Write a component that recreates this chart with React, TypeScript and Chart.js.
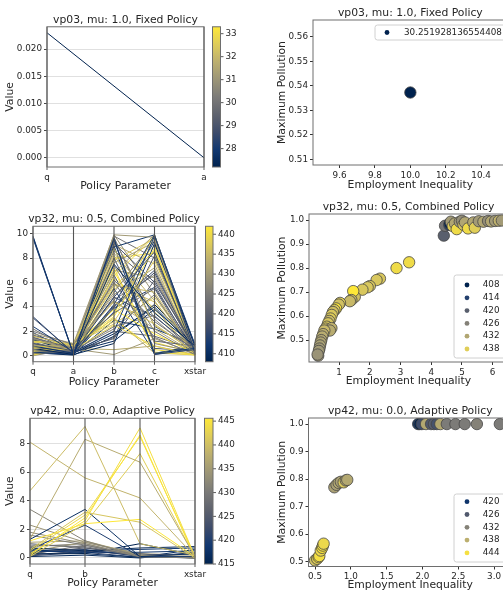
import React, { useEffect, useRef } from 'react';
import { Chart, registerables } from 'chart.js';

Chart.register(...registerables);

const FONT = "'DejaVu Sans', sans-serif";
const TEXT = '#262626';
const SPINE = '#6e6e6e';
const TICK_SIZE = 8.8;
const LABEL_SIZE = 10.8;
const TITLE_SIZE = 10.8;

// ---------------- data ----------------
// Panel 1: vp03, mu 1.0, Fixed Policy (parallel coordinates)
const P1_PARAMS = ['q', 'a'];
const P1_Q = [0.023];
const P1_A = [0.0];
const P1_CLASS = [30.251928136554408];
const P1_YTICKS = [0, 0.005, 0.01, 0.015, 0.02];
const P1_YRANGE = [-0.0017, 0.0241];
const P1_CBRANGE = [27.2, 33.3];
const P1_CBTICKS = [28, 29, 30, 31, 32, 33];

// Panel 2: vp32, mu 0.5, Combined Policy (parallel coordinates)
const P2_PARAMS = ['q', 'a', 'b', 'c', 'xstar'];
const P2_Q = [9.8,9.6,9.7,3.2,3.1,2.4,2.0,1.8,1.6,1.5,1.4,1.2,1.1,1.0,0.9,0.8,0.8,0.7,0.7,0.6,0.6,0.5,0.5,0.5,0.4,0.4,0.35,0.3,0.3,0.25,0.2,0.2,0.15,0.1,0.05,0.0,2.2,1.9,1.3,1.7,0.9,0.6,0.45,1.2,0.8,0.3,1.0,0.7,0.2,1.4,0.55,0.9,0.4,1.6,0.25,0.75,1.1,0.35,0.65,1.3,0.1,0.5,0.85,0.15,1.5,0.6,0.3,0.95,0.2,0.7];
const P2_A = [0.1,0.15,0.12,0.2,0.25,0.3,0.9,1.0,0.8,0.6,0.5,1.0,0.95,0.4,0.7,0.85,0.2,0.9,0.3,0.6,0.1,0.75,0.5,0.15,0.95,0.35,0.8,0.1,0.65,0.45,1.0,0.25,0.7,0.9,0.85,0.6,0.4,0.2,0.3,0.7,0.45,0.8,0.55,0.6,0.95,0.4,0.15,0.55,0.75,0.35,1.0,0.25,0.65,0.9,0.05,0.5,0.3,0.85,0.2,0.7,0.4,0.9,0.1,0.6,0.45,0.8,0.3,0.65,0.15,0.95];
const P2_B = [9.6,4.2,7.5,9.5,4.8,2.0,6.0,9.9,8.8,3.5,5.2,7.2,2.8,9.2,4.5,6.8,1.8,3.2,8.0,5.8,1.0,9.6,2.5,4.0,7.8,6.2,3.8,9.0,5.0,2.2,8.4,1.5,6.5,4.4,3.0,7.0,9.8,5.5,1.2,8.6,9.4,5.6,0.1,0.5,2.6,4.8,3.6,7.4,9.1,6.6,3.4,2.0,8.2,4.6,1.6,5.4,9.7,6.9,3.9,7.6,2.4,5.9,8.9,3.1,1.4,9.9,4.1,6.3,2.9,8.0];
const P2_C = [0.2,9.9,3.5,0.1,8.5,9.8,1.5,9.7,2.5,5.5,9.5,0.3,7.8,6.0,2.2,9.9,4.0,8.8,1.2,5.2,9.2,3.0,0.8,6.8,9.6,2.8,1.8,0.1,7.2,5.0,4.5,8.2,9.8,2.6,0.5,6.4,8.0,0.2,3.8,5.8,1.0,9.0,1.4,0.8,4.8,3.2,9.4,2.0,7.5,0.6,9.9,1.6,3.6,6.6,4.2,8.6,2.4,1.1,5.6,9.3,3.3,4.4,9.9,0.2,6.2,5.0,7.0,3.9,2.2,8.4];
const P2_X = [0.6,0.3,0.8,0.5,0.2,0.9,0.1,0.2,0.3,0.1,0.5,0.05,0.4,0.7,0.2,0.1,0.6,0.3,0.8,0.15,0.9,0.2,0.05,0.4,0.1,0.5,0.2,0.7,0.3,0.1,0.15,0.6,0.05,0.25,0.1,0.4,0.5,0.8,0.9,0.2,0.3,0.1,0.2,0.1,0.3,0.6,0.7,0.1,0.2,0.4,0.05,0.5,0.3,0.2,0.8,0.1,0.6,0.2,0.4,0.1,0.3,0.2,0.7,0.1,0.5,0.2,0.4,0.1,0.9,0.05];
const P2_CLASS = [412,414,410,415,416,413,425,430,436,422,428,440,438,418,433,432,411,441,420,435,409,427,439,417,437,423,442,412,431,426,434,419,440,436,441,429,424,414,410,421,428,438,430,433,437,416,413,425,432,418,440,422,435,427,408,439,419,442,415,431,424,436,411,434,420,429,417,437,412,441];
const P2_YTICKS = [0, 2, 4, 6, 8, 10];
const P2_YRANGE = [-0.49, 10.6];
const P2_CBRANGE = [408, 442];
const P2_CBTICKS = [410, 415, 420, 425, 430, 435, 440];

// Panel 3: vp42, mu 0.0, Adaptive Policy (parallel coordinates)
const P3_PARAMS = ['q', 'b', 'c', 'xstar'];
const P3_Q = [8.1,4.7,1.3,0.3,0.2,0.5,0.1,1.2,0.6,1.3,0.6,3.4,2.3,1.8,1.6,1.1,0.9,0.7,0.5,0.4,0.3,0.2,0.6,0.35,0.25,0.15,0.45,1.0,0.8,0.1,0.55,0.7];
const P3_B = [5.6,9.2,8.3,2.6,2.8,3.0,2.4,2.4,3.2,3.4,2.3,1.2,1.1,1.0,0.9,1.2,0.8,0.5,0.4,0.6,0.3,0.5,0.3,0.7,0.9,0.4,1.1,0.7,1.0,0.2,0.45,0.55];
const P3_C = [4.2,1.0,6.7,9.1,8.6,8.5,7.3,2.7,2.5,0.1,0.1,0.1,0.2,0.1,0.15,0.2,0.1,0.7,0.4,0.1,1.0,0.2,0.05,0.3,0.1,0.05,0.3,0.2,0.1,0.0,0.6,0.15];
const P3_X = [0.1,0.2,0.1,0.1,0.0,0.1,0.05,0.1,0.0,0.3,0.1,0.0,0.1,0.05,0.1,0.0,0.1,0.8,0.5,0.0,0.2,0.3,0.6,0.0,0.1,0.05,0.2,0.0,0.1,0.4,0.7,0.0];
const P3_CLASS = [436,437,435,444,445,443,442,445,441,417,419,430,432,431,429,434,428,416,418,420,415,422,417,425,427,421,433,426,430,416,418,423];
const P3_YTICKS = [0, 2, 4, 6, 8];
const P3_YRANGE = [-0.42, 9.77];
const P3_CBRANGE = [415, 445.6];
const P3_CBTICKS = [415, 420, 425, 430, 435, 440, 445];

// Panel 4: vp03 scatter
const P4_X = [10.0];
const P4_Y = [0.5373];
const P4_HUE = [30.251928136554408];
const P4_LEGEND = ['30.251928136554408'];
const P4_XTICKS = [9.6, 9.8, 10.0, 10.2, 10.4];
const P4_YTICKS = [0.51, 0.52, 0.53, 0.54, 0.55, 0.56];
const P4_XRANGE = [9.45, 10.55];
const P4_YRANGE = [0.5077, 0.5669];

// Panel 5: vp32 scatter
const P5_X = [4.41,4.45,4.59,4.6,4.64,4.7,4.77,4.83,4.93,5.0,5.05,5.1,5.2,5.37,5.42,5.55,5.7,5.85,5.95,6.08,6.2,6.3,
  3.28,2.87,2.33,2.22,2.0,1.93,1.76,1.51,1.46,1.40,1.35,
  1.03,0.99,0.9,0.85,0.8,0.76,0.72,0.68,0.64,0.6,0.56,0.75,0.7,0.52,0.48,0.45,0.42,0.4,0.38,0.36,0.34,0.32,0.3];
const P5_Y = [0.935,0.976,0.979,0.985,0.993,0.975,0.986,0.962,0.993,0.997,0.98,0.99,0.965,0.99,0.968,0.995,0.993,0.996,0.994,0.996,0.997,0.998,
  0.824,0.80,0.756,0.75,0.725,0.72,0.71,0.68,0.704,0.667,0.662,
  0.655,0.648,0.632,0.625,0.617,0.605,0.59,0.58,0.57,0.556,0.548,0.55,0.54,0.54,0.525,0.515,0.5,0.49,0.478,0.465,0.455,0.435,0.44];
const P5_HUE = [420,424,414,408,430,438,432,440,430,428,436,432,440,432,438,430,432,428,432,430,434,430,
  440,440,437,437,437,437,437,436,442,435,435,
  438,436,442,437,436,437,438,435,437,438,436,434,433,435,434,433,432,432,431,430,430,430,429];
const P5_LEGEND = [408, 414, 420, 426, 432, 438];
const P5_XTICKS = [1, 2, 3, 4, 5, 6];
const P5_YTICKS = [0.5, 0.6, 0.7, 0.8, 0.9, 1.0];
const P5_XRANGE = [0.02, 6.5];
const P5_YRANGE = [0.409, 1.025];

// Panel 6: vp42 scatter
const P6_X = [1.94,1.96,1.99,2.05,2.12,2.16,2.2,2.25,2.34,2.46,2.59,2.76,3.08,
  0.77,0.8,0.83,0.86,0.9,0.93,0.95,
  0.5,0.53,0.55,0.56,0.58,0.6,0.61,0.62];
const P6_Y = [1.0,1.0,1.0,1.0,1.0,1.0,1.0,1.0,1.0,1.0,1.0,1.0,1.0,
  0.77,0.779,0.786,0.79,0.788,0.795,0.797,
  0.504,0.51,0.516,0.52,0.54,0.55,0.558,0.565];
const P6_HUE = [420,417,424,437,426,427,425,437,431,431,431,432,431,
  436,436,437,436,441,438,437,
  440,442,445,444,443,445,444,443];
const P6_LEGEND = [420, 426, 432, 438, 444];
const P6_XTICKS = [0.5, 1.0, 1.5, 2.0, 2.5, 3.0];
const P6_YTICKS = [0.5, 0.6, 0.7, 0.8, 0.9, 1.0];
const P6_XRANGE = [0.409, 3.25];
const P6_YRANGE = [0.482, 1.022];

// ---------------- colormap ----------------
const CIVIDIS_STOPS = [
  [0, 34, 78], [18, 56, 112], [62, 76, 107], [95, 99, 110], [124, 123, 120],
  [156, 149, 119], [188, 175, 111], [222, 204, 90], [254, 232, 56],
];
function cividis(t: number): string {
  const n = CIVIDIS_STOPS.length - 1;
  const c = Math.min(1, Math.max(0, t)) * n;
  const i = Math.min(Math.floor(c), n - 1);
  const f = c - i;
  const a = CIVIDIS_STOPS[i], b = CIVIDIS_STOPS[i + 1];
  const m = (k: number) => Math.round(a[k] + (b[k] - a[k]) * f);
  return `rgb(${m(0)},${m(1)},${m(2)})`;
}

// ---------------- helpers ----------------
type Geom = {
  cw: number; ch: number; L: number; T: number; R: number; B: number;
  yTitleX: number; xTitleY: number; titleGap: number;
  cbGap?: number; cbW?: number;
};
type LegendSpec = {
  items: { label: string; color: string }[];
  x: number; y: number; w: number; h: number;
  markerX: number; textX: number; firstRowY: number; rowH: number;
};

const tickFont = { family: FONT, size: TICK_SIZE };
const labelFont = { family: FONT, size: LABEL_SIZE, lineHeight: 1.2 };
const LH = LABEL_SIZE * 1.2;

// vertical category lines of a parallel-coordinates plot, drawn above the data lines
function categoryLinesPlugin() {
  return {
    id: 'catlines',
    afterDatasetsDraw(chart: any) {
      const { ctx, chartArea: a } = chart;
      const xs = chart.scales.x;
      ctx.save();
      ctx.strokeStyle = '#555';
      ctx.lineWidth = 1.1;
      xs.ticks.forEach((_t: any, i: number) => {
        const x = xs.getPixelForTick(i);
        ctx.beginPath();
        ctx.moveTo(x, a.top);
        ctx.lineTo(x, a.bottom);
        ctx.stroke();
        ctx.beginPath();
        ctx.strokeStyle = '#333';
        ctx.lineWidth = 0.8;
        ctx.moveTo(x, a.bottom);
        ctx.lineTo(x, a.bottom + 3);
        ctx.stroke();
        ctx.strokeStyle = '#555';
        ctx.lineWidth = 1.1;
      });
      ctx.restore();
    },
  };
}

function decorPlugin(title: string, g: Geom, legend?: LegendSpec) {
  return {
    id: 'decor',
    afterDraw(chart: any) {
      const { ctx, chartArea: a } = chart;
      ctx.save();
      // colorbar
      const cb = chart.scales.cb;
      if (cb && g.cbGap !== undefined && g.cbW !== undefined) {
        const x0 = a.right + g.cbGap;
        const w = g.cbW;
        const grad = ctx.createLinearGradient(0, a.bottom, 0, a.top);
        for (let i = 0; i <= 32; i++) grad.addColorStop(i / 32, cividis(i / 32));
        ctx.fillStyle = grad;
        ctx.fillRect(x0, a.top, w, a.bottom - a.top);
        ctx.strokeStyle = '#333';
        ctx.lineWidth = 0.8;
        for (const t of cb.ticks) {
          const y = cb.getPixelForValue(t.value);
          ctx.beginPath();
          ctx.moveTo(x0 + w, y);
          ctx.lineTo(x0 + w + 3, y);
          ctx.stroke();
        }
        ctx.strokeStyle = SPINE;
        ctx.lineWidth = 1;
        ctx.strokeRect(x0, a.top, w, a.bottom - a.top);
      }
      // spines
      ctx.strokeStyle = SPINE;
      ctx.lineWidth = 1;
      ctx.strokeRect(a.left, a.top, a.right - a.left, a.bottom - a.top);
      // legend
      if (legend) {
        ctx.fillStyle = 'rgba(255,255,255,0.85)';
        ctx.strokeStyle = '#d0d0d0';
        ctx.lineWidth = 1;
        const r = 2.5;
        const { x, y, w, h } = legend;
        ctx.beginPath();
        ctx.moveTo(x + r, y);
        ctx.lineTo(x + w - r, y);
        ctx.arcTo(x + w, y, x + w, y + r, r);
        ctx.lineTo(x + w, y + h - r);
        ctx.arcTo(x + w, y + h, x + w - r, y + h, r);
        ctx.lineTo(x + r, y + h);
        ctx.arcTo(x, y + h, x, y + h - r, r);
        ctx.lineTo(x, y + r);
        ctx.arcTo(x, y, x + r, y, r);
        ctx.closePath();
        ctx.fill();
        ctx.stroke();
        ctx.font = `${TICK_SIZE}px ${FONT}`;
        ctx.textAlign = 'left';
        ctx.textBaseline = 'middle';
        legend.items.forEach((it, i) => {
          const yy = legend.firstRowY + i * legend.rowH;
          ctx.fillStyle = it.color;
          ctx.beginPath();
          ctx.arc(legend.markerX, yy, 2.4, 0, Math.PI * 2);
          ctx.fill();
          ctx.fillStyle = TEXT;
          ctx.fillText(it.label, legend.textX, yy);
        });
      }
      // title
      ctx.fillStyle = TEXT;
      ctx.font = `${TITLE_SIZE}px ${FONT}`;
      ctx.textAlign = 'center';
      ctx.textBaseline = 'alphabetic';
      ctx.fillText(title, (a.left + a.right) / 2, a.top - g.titleGap);
      ctx.restore();
    },
  };
}

const fixedTicks = (vals: number[]) => (s: any) => {
  s.ticks = vals.map((v) => ({ value: v }));
};

function parallelConfig(
  g: Geom, title: string, params: string[], cols: number[][], classes: number[],
  yRange: number[], yTicks: number[], yFmt: (v: number) => string,
  cbRange: number[], cbTicks: number[],
): any {
  const uniq = Array.from(new Set(classes)).sort((p, q) => p - q);
  const datasets = classes.map((cl, i) => {
    const rank = uniq.indexOf(cl);
    const t = uniq.length > 1 ? rank / (uniq.length - 1) : 0;
    return {
      data: cols.map((col) => col[i]),
      borderColor: cividis(t),
      borderWidth: 1,
      pointRadius: 0,
      fill: false,
      tension: 0,
    };
  });
  return {
    type: 'line',
    data: { labels: params, datasets },
    options: {
      responsive: false,
      devicePixelRatio: 1,
      animation: false,
      events: [],
      layout: { padding: { left: 0, top: g.T, right: 0, bottom: 0 } },
      plugins: { legend: { display: false }, tooltip: { enabled: false }, title: { display: false } },
      scales: {
        x: {
          type: 'category',
          offset: false,
          afterFit: (s: any) => { s.height = g.ch - g.B; },
          grid: { display: false, drawTicks: true, tickLength: 3 },
          border: { display: false },
          ticks: { color: TEXT, font: tickFont, padding: 2, autoSkip: false, maxRotation: 0 },
          title: {
            display: true, text: 'Policy Parameter', color: TEXT, font: labelFont,
            padding: { top: 0, bottom: g.ch - g.xTitleY - LH / 2 },
          },
        },
        y: {
          type: 'linear',
          min: yRange[0],
          max: yRange[1],
          afterFit: (s: any) => { s.width = g.L; },
          afterBuildTicks: fixedTicks(yTicks),
          grid: { color: '#dcdcdc', lineWidth: 0.9, drawTicks: true, tickLength: 3, tickColor: '#333' },
          border: { display: false },
          ticks: { color: TEXT, font: tickFont, padding: 2, callback: (v: number) => yFmt(v) },
          title: {
            display: true, text: 'Value', color: TEXT, font: labelFont,
            padding: { top: g.yTitleX - LH / 2, bottom: 0 },
          },
        },
        cb: {
          type: 'linear',
          axis: 'y',
          position: 'right',
          min: cbRange[0],
          max: cbRange[1],
          afterFit: (s: any) => { s.width = g.cw - g.R; },
          afterBuildTicks: fixedTicks(cbTicks),
          grid: { display: false, drawTicks: false },
          border: { display: false },
          ticks: { color: TEXT, font: tickFont, padding: (g.cbGap || 9) + (g.cbW || 8) + 5, callback: (v: number) => String(v) },
        },
      },
    },
    plugins: [categoryLinesPlugin(), decorPlugin(title, g)],
  };
}

function scatterConfig(
  g: Geom, title: string, xs: number[], ys: number[], hues: number[],
  xRange: number[], yRange: number[], xTicks: number[], yTicks: number[],
  xFmt: (v: number) => string, yFmt: (v: number) => string, legend: LegendSpec,
): any {
  const hMin = Math.min(...hues), hMax = Math.max(...hues);
  const norm = (h: number) => (hMax > hMin ? (h - hMin) / (hMax - hMin) : 0);
  return {
    type: 'scatter',
    data: {
      datasets: [{
        data: xs.map((x, i) => ({ x, y: ys[i] })),
        backgroundColor: hues.map((h) => cividis(norm(h))),
        borderColor: '#464646',
        borderWidth: 0.8,
        pointRadius: 5.7,
      }],
    },
    options: {
      responsive: false,
      devicePixelRatio: 1,
      animation: false,
      events: [],
      layout: { padding: { left: 0, top: g.T, right: g.cw - g.R, bottom: 0 } },
      plugins: { legend: { display: false }, tooltip: { enabled: false }, title: { display: false } },
      scales: {
        x: {
          type: 'linear',
          min: xRange[0],
          max: xRange[1],
          afterFit: (s: any) => { s.height = g.ch - g.B; },
          afterBuildTicks: fixedTicks(xTicks),
          grid: { drawOnChartArea: false, drawTicks: true, tickLength: 3, tickColor: '#333' },
          border: { display: false },
          ticks: { color: TEXT, font: tickFont, padding: 2, maxRotation: 0, callback: (v: number) => xFmt(v) },
          title: {
            display: true, text: 'Employment Inequality', color: TEXT, font: labelFont,
            padding: { top: 0, bottom: g.ch - g.xTitleY - LH / 2 },
          },
        },
        y: {
          type: 'linear',
          min: yRange[0],
          max: yRange[1],
          afterFit: (s: any) => { s.width = g.L; },
          afterBuildTicks: fixedTicks(yTicks),
          grid: { drawOnChartArea: false, drawTicks: true, tickLength: 3, tickColor: '#333' },
          border: { display: false },
          ticks: { color: TEXT, font: tickFont, padding: 2, callback: (v: number) => yFmt(v) },
          title: {
            display: true, text: 'Maximum Pollution', color: TEXT, font: labelFont,
            padding: { top: g.yTitleX - LH / 2, bottom: 0 },
          },
        },
      },
    },
    plugins: [decorPlugin(title, g, legend)],
  };
}

function legendItems(vals: number[], hues: number[], labels?: string[]) {
  const hMin = Math.min(...hues), hMax = Math.max(...hues);
  return vals.map((v, i) => ({
    label: labels ? labels[i] : String(v),
    color: cividis(hMax > hMin ? (v - hMin) / (hMax - hMin) : 0),
  }));
}

// ---------------- geometry ----------------
const G1: Geom = { cw: 250, ch: 198, L: 47, T: 20, R: 204, B: 167, yTitleX: 10, xTitleY: 186, titleGap: 4, cbGap: 8.5, cbW: 8 };
const G2: Geom = { cw: 250, ch: 192, L: 33, T: 12, R: 195, B: 164, yTitleX: 10, xTitleY: 184, titleGap: 4, cbGap: 10.5, cbW: 7.5 };
const G3: Geom = { cw: 250, ch: 204, L: 30, T: 21, R: 195, B: 174, yTitleX: 10, xTitleY: 193, titleGap: 4, cbGap: 9.5, cbW: 8.5 };
const G4: Geom = { cw: 270, ch: 198, L: 63, T: 20, R: 257.7, B: 165, yTitleX: 32, xTitleY: 185, titleGap: 4 };
const G5: Geom = { cw: 270, ch: 192, L: 59, T: 16, R: 258, B: 164, yTitleX: 32, xTitleY: 183, titleGap: 4 };
const G6: Geom = { cw: 270, ch: 204, L: 58.5, T: 28, R: 262, B: 176.5, yTitleX: 32, xTitleY: 195, titleGap: 4 };

const fmt = (d: number) => (v: number) => v.toFixed(d);

function Panel({ left, top, width, height, build }: any) {
  const ref = useRef<HTMLCanvasElement | null>(null);
  useEffect(() => {
    if (!ref.current) return;
    const chart = new Chart(ref.current, build());
    return () => chart.destroy();
  }, []);
  return (
    <canvas
      ref={ref}
      width={width}
      height={height}
      style={{ position: 'absolute', left, top, width, height, display: 'block' }}
    />
  );
}

export default function App() {
  return (
    <div style={{ position: 'fixed', left: 0, top: 0, width: 503, height: 594, overflow: 'hidden', background: '#fff' }}>
      <Panel left={0} top={0} width={G1.cw} height={G1.ch}
        build={() => parallelConfig(G1, 'vp03, mu: 1.0, Fixed Policy', P1_PARAMS, [P1_Q, P1_A], P1_CLASS,
          P1_YRANGE, P1_YTICKS, fmt(3), P1_CBRANGE, P1_CBTICKS)} />
      <Panel left={0} top={198} width={G2.cw} height={G2.ch}
        build={() => parallelConfig(G2, 'vp32, mu: 0.5, Combined Policy', P2_PARAMS, [P2_Q, P2_A, P2_B, P2_C, P2_X], P2_CLASS,
          P2_YRANGE, P2_YTICKS, fmt(0), P2_CBRANGE, P2_CBTICKS)} />
      <Panel left={0} top={390} width={G3.cw} height={G3.ch}
        build={() => parallelConfig(G3, 'vp42, mu: 0.0, Adaptive Policy', P3_PARAMS, [P3_Q, P3_B, P3_C, P3_X], P3_CLASS,
          P3_YRANGE, P3_YTICKS, fmt(0), P3_CBRANGE, P3_CBTICKS)} />
      <Panel left={250} top={0} width={G4.cw} height={G4.ch}
        build={() => scatterConfig(G4, 'vp03, mu: 1.0, Fixed Policy', P4_X, P4_Y, P4_HUE, P4_XRANGE, P4_YRANGE,
          P4_XTICKS, P4_YTICKS, fmt(1), fmt(2),
          { items: legendItems([P4_HUE[0]], P4_HUE, P4_LEGEND), x: 125, y: 25, w: 140, h: 15, markerX: 137, textX: 154, firstRowY: 32.5, rowH: 12.8 })} />
      <Panel left={250} top={198} width={G5.cw} height={G5.ch}
        build={() => scatterConfig(G5, 'vp32, mu: 0.5, Combined Policy', P5_X, P5_Y, P5_HUE, P5_XRANGE, P5_YRANGE,
          P5_XTICKS, P5_YTICKS, fmt(0), fmt(1),
          { items: legendItems(P5_LEGEND, P5_HUE), x: 204, y: 77, w: 60, h: 83, markerX: 217, textX: 232.7, firstRowY: 87, rowH: 12.8 })} />
      <Panel left={250} top={390} width={G6.cw} height={G6.ch}
        build={() => scatterConfig(G6, 'vp42, mu: 0.0, Adaptive Policy', P6_X, P6_Y, P6_HUE, P6_XRANGE, P6_YRANGE,
          P6_XTICKS, P6_YTICKS, fmt(1), fmt(1),
          { items: legendItems(P6_LEGEND, P6_HUE), x: 204, y: 104, w: 60, h: 68, markerX: 217, textX: 232.7, firstRowY: 111.7, rowH: 12.8 })} />
    </div>
  );
}
